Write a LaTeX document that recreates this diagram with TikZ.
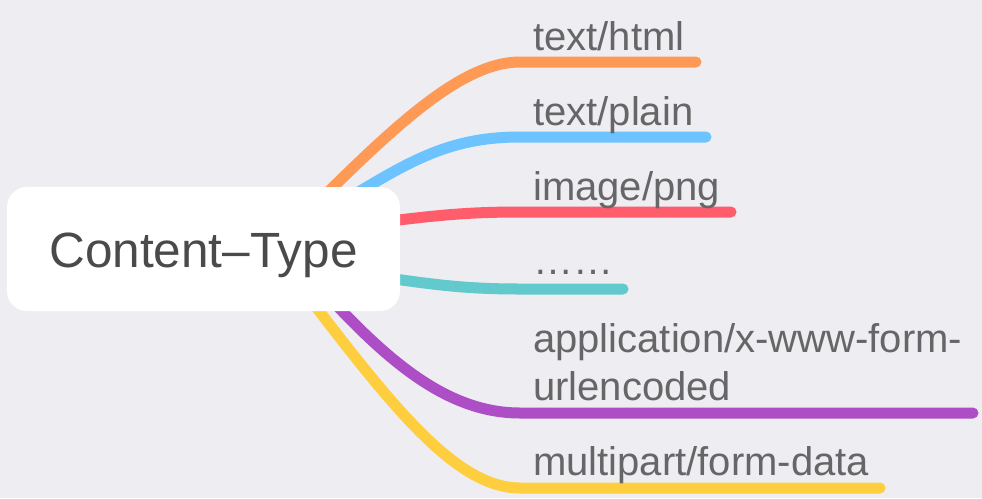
\documentclass[tikz,border=0pt]{standalone}
\usepackage{fontspec}
\setmainfont{Liberation Sans}
\usetikzlibrary{backgrounds}
\definecolor{bgc}{HTML}{EDEDF2}
\definecolor{corange}{HTML}{FF9A56}
\definecolor{cblue}{HTML}{6CC3FF}
\definecolor{cred}{HTML}{FF5C6C}
\definecolor{cteal}{HTML}{62C9CC}
\definecolor{cpurple}{HTML}{AE4EC6}
\definecolor{cyellow}{HTML}{FFCE3F}
\definecolor{labc}{HTML}{666666}
\definecolor{rootc}{HTML}{4A4A4A}
\tikzset{
  branch/.style={line width=11pt, line cap=round},
  leaf/.style={anchor=base west, inner sep=0pt, text=labc, font=\fontsize{40}{48}\selectfont, align=left},
  rootbox/.style={fill=white, rounded corners=20pt, inner sep=0pt, minimum width=393pt, minimum height=124pt, text=rootc, font=\fontsize{49.5}{56}\selectfont}
}
\begin{document}
\begin{tikzpicture}[x=1pt,y=-1pt]
\useasboundingbox (0,0) rectangle (982,498);
\node[rootbox] (root) at (203.5,249) {};
\node[anchor=base, inner sep=0pt, text=rootc, font=\fontsize{49.5}{56}\selectfont] (roottext) at (203.5,267) {Content–Type};
% branch coordinates
\coordinate (s1) at (300,220); \coordinate (e1) at (696,62);
\coordinate (s2) at (320,215); \coordinate (e2) at (706,137);
\coordinate (s3) at (330,228); \coordinate (e3) at (731,212);
\coordinate (s4) at (330,270); \coordinate (e4) at (623,289);
\coordinate (s5) at (300,265); \coordinate (e5) at (973,413);
\coordinate (s6) at (280,260); \coordinate (e6) at (880,488);
\begin{pgfonlayer}{background}
\fill[bgc] (0,0) rectangle (982,498);
\draw[branch, corange] (s1) .. controls (390,130) and (460,62) .. (520,62) -- (e1);
\draw[branch, cblue] (s2) .. controls (400,168) and (440,137) .. (520,137) -- (e2);
\draw[branch, cred] (s3) .. controls (420,218) and (450,212) .. (520,212) -- (e3);
\draw[branch, cteal] (s4) .. controls (420,282) and (450,289) .. (520,289) -- (e4);
\draw[branch, cpurple] (s5) .. controls (375,350) and (440,413) .. (520,413) -- (e5);
\draw[branch, cyellow] (s6) .. controls (380,390) and (450,488) .. (520,488) -- (e6);
\end{pgfonlayer}
\node[leaf] (l1) at (533,50) {text/html};
\node[leaf] (l2) at (533,125) {text/plain};
\node[leaf] (l3) at (533,200) {image/png};
\node[leaf] (l4) at (533,274) {……};
\node[leaf] (l5) at (533,400) {application/x-www-form-\\urlencoded};
\node[leaf] (l6) at (533,475) {multipart/form-data};
\end{tikzpicture}
\end{document}
